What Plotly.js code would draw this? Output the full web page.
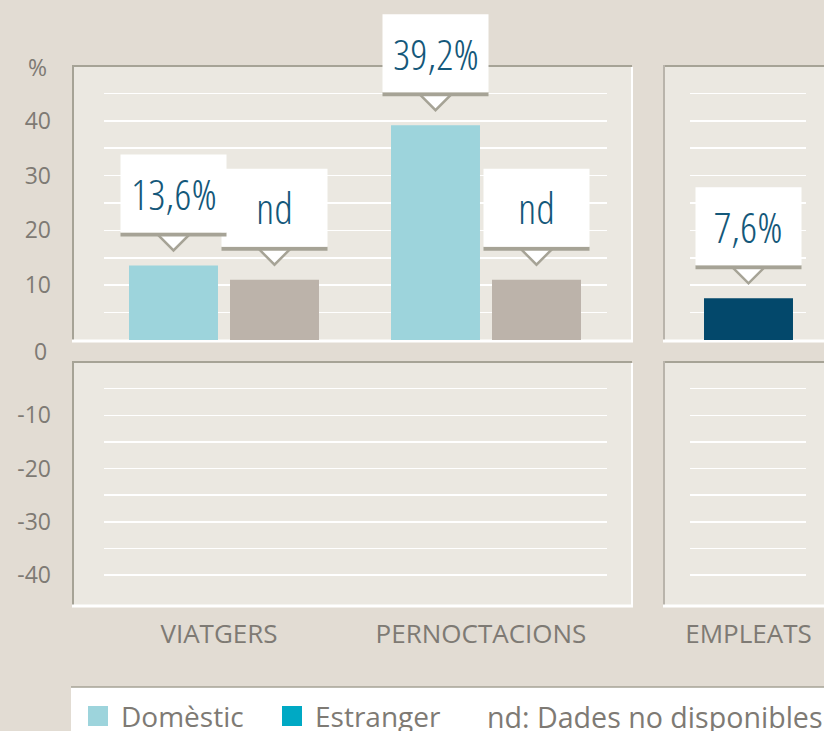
<!DOCTYPE html>
<html>
<head>
<meta charset="utf-8">
<script src="https://cdn.plot.ly/plotly-3.0.1.min.js"></script>
<style>
html, body { margin: 0; padding: 0; background: #e2dcd3; }
#chart { width: 824px; height: 731px; }
text[style*="Open Sans Condensed"] { font-stretch: 75%; }
</style>
</head>
<body>
<div id="chart"></div>
<script>
// ---------------- data ----------------
const categories = ['VIATGERS', 'PERNOCTACIONS'];
const domestic = [13.6, 39.2];                 // Domèstic, %
const estrangerPlaceholder = [11, 11];         // grey bars shown where Estranger is "nd"
const estrangerText = ['nd', 'nd'];
const empCategories = ['EMPLEATS'];
const empleats = [7.6];
const yTicksTop = [10, 20, 30, 40];
const yTickTextTop = ['10', '20', '30', '40'];
const yTicksBottom = [-40, -30, -20, -10];
const yTickTextBottom = ['-40', '-30', '-20', '-10'];
const gridTop = [5, 10, 15, 20, 25, 30, 35, 40, 45];
const gridBottom = [-40, -35, -30, -25, -20, -15, -10, -5];
const legendNames = ['Domèstic', 'Estranger'];
const ndNote = 'nd: Dades no disponibles';
const unitLabel = '%';
const zeroLabel = '0';

// ---------------- style ----------------
const W = 824, H = 731;
const BG = '#e2dcd3', PANEL = '#ebe8e1', BORDER = '#a6a396', BORDER2 = '#b9b4ab';
const C_DOM = '#9dd4dc', C_EST = '#00a9c4', C_ND = '#bcb3aa', C_EMP = '#03486b';
const TXT = '#7e7a74', VAL = '#14587a';
const BARGAP = 0.229, BARGROUPGAP = 0.119;
const px = x => x / W;
const py = y => 1 - y / H;

const fmt = v => v.toFixed(1).replace('.', ',') + '%';

const shapes = [];
const annotations = [];

function prect(x0, y0, x1, y1, fill, layer) {
  shapes.push({type: 'rect', xref: 'paper', yref: 'paper', x0: px(x0), x1: px(x1), y0: py(y1), y1: py(y0),
    fillcolor: fill, line: {width: 0}, layer: layer || 'below'});
}
function pline(x0, y0, x1, y1, color, w) {
  shapes.push({type: 'line', xref: 'paper', yref: 'paper', x0: px(x0), x1: px(x1), y0: py(y0), y1: py(y1),
    line: {color: color, width: w}, layer: 'below'});
}
function panel(x0, y0, x1, y1) {
  prect(x0, y0, x1, y1, PANEL);
  pline(x0, y0 + 1, x1, y0 + 1, BORDER, 2);
  pline(x0 + 1, y0, x0 + 1, y1, x0 > 100 ? BORDER2 : BORDER, 2);
  pline(x0, y1 - 1, x1 + 1, y1 - 1, '#ffffff', 3);
  pline(x1, y0 + 2, x1, y1, '#ffffff', 2);
}
panel(72, 65, 632, 342);
panel(663, 65, 840, 342);
panel(72, 361, 632, 607);
panel(663, 361, 840, 607);

// callouts
const valFont = {family: 'Open Sans Condensed Light, Open Sans Condensed, Open Sans', size: 43, weight: 300, color: VAL};
function callout(xref, yref, xc, yv, text) {
  const base = {xref: xref, yref: yref, xsizemode: 'pixel', ysizemode: 'pixel', xanchor: xc, yanchor: yv};
  shapes.push(Object.assign({type: 'path', path: 'M -16,31 L 0,15 L 16,31 Z',
    fillcolor: '#ffffff', line: {color: BORDER, width: 2.5}}, base));
  shapes.push(Object.assign({type: 'rect', x0: -53, x1: 53, y0: 29, y1: 33,
    fillcolor: BORDER, line: {width: 0}}, base));
  shapes.push(Object.assign({type: 'rect', x0: -53, x1: 53, y0: 33, y1: 111,
    fillcolor: '#ffffff', line: {width: 0}}, base));
  annotations.push({xref: xref, yref: yref, x: xc, y: yv, yshift: 72, text: text, showarrow: false,
    xanchor: 'center', yanchor: 'middle', font: valFont});
}
const slot = (1 - BARGAP) / 2;
categories.forEach((c, i) => callout('x', 'y', i + slot / 2, estrangerPlaceholder[i], estrangerText[i]));
categories.forEach((c, i) => callout('x', 'y', i - slot / 2, domestic[i], fmt(domestic[i])));
empCategories.forEach((c, i) => callout('x2', 'y2', i, empleats[i], fmt(empleats[i])));

// axis extra labels
annotations.push({xref: 'paper', yref: 'paper', x: px(49), y: py(67), xanchor: 'right', yanchor: 'middle',
  text: unitLabel, showarrow: false, font: {family: 'Open Sans', size: 23, color: TXT}});
annotations.push({xref: 'paper', yref: 'y', x: px(49), y: 0, yshift: -11, xanchor: 'right', yanchor: 'middle',
  text: zeroLabel, showarrow: false, font: {family: 'Open Sans', size: 23, color: TXT}});

// legend (bottom strip)
prect(71, 687, 840, 731, '#ffffff', 'above');
shapes.push({type: 'line', xref: 'paper', yref: 'paper', x0: px(71), x1: px(840), y0: py(687), y1: py(687),
  line: {color: BORDER, width: 1.5}, layer: 'above'});
const legendColors = [C_DOM, C_EST];
const legendX = [88, 282];
const legFont = {family: 'Open Sans', size: 28, color: TXT};
legendNames.forEach((n, i) => {
  prect(legendX[i], 706, legendX[i] + 20, 726, legendColors[i], 'above');
  annotations.push({xref: 'paper', yref: 'paper', x: px(legendX[i] + 31), y: py(716), xanchor: 'left', yanchor: 'middle',
    text: n, showarrow: false, font: legFont});
});
annotations.push({xref: 'paper', yref: 'paper', x: px(485), y: py(716), xanchor: 'left', yanchor: 'middle',
  text: ndNote, showarrow: false, font: {family: 'Open Sans', size: 28.6, color: TXT}});

// ---------------- traces ----------------
const data = [
  {type: 'bar', name: legendNames[0], x: categories, y: domestic, xaxis: 'x', yaxis: 'y',
   marker: {color: C_DOM}, showlegend: false, hoverinfo: 'skip'},
  {type: 'bar', name: legendNames[1], x: categories, y: estrangerPlaceholder, xaxis: 'x', yaxis: 'y',
   marker: {color: C_ND}, showlegend: false, hoverinfo: 'skip'},
  {type: 'bar', name: 'Empleats', x: empCategories, y: empleats, xaxis: 'x2', yaxis: 'y2',
   width: slot * (1 - BARGROUPGAP), marker: {color: C_EMP}, showlegend: false, hoverinfo: 'skip'},
  {type: 'bar', x: categories, y: categories.map(() => null), xaxis: 'x', yaxis: 'y3',
   showlegend: false, hoverinfo: 'skip'},
  {type: 'bar', x: empCategories, y: empCategories.map(() => null), xaxis: 'x2', yaxis: 'y4',
   showlegend: false, hoverinfo: 'skip'}
];

const unit = 262; // px per category
const xFont = {family: 'Open Sans', size: 26, color: TXT};
const yFont = {family: 'Open Sans', size: 23, color: TXT};
const gridStyle = (vals) => ({showgrid: true, gridcolor: '#ffffff', gridwidth: 1.5,
  minor: {tickmode: 'array', tickvals: vals, showgrid: true, gridcolor: '#ffffff', gridwidth: 1.5, ticks: ''}});

// top subplots: 0 at y=340px, 50 at y=66px; domain extended to page top so callouts are not clipped
const topDomain = [py(340), 1];
const topMax = 50 * 340 / (340 - 66);
const botDomain = [py(606), py(362)];
const botMin = -(606 - 362) / 5.325;

const layout = {
  width: W, height: H,
  margin: {l: 0, r: 0, t: 0, b: 0},
  paper_bgcolor: BG, plot_bgcolor: 'rgba(0,0,0,0)',
  barmode: 'group', bargap: BARGAP, bargroupgap: BARGROUPGAP,
  showlegend: false, hovermode: false,
  xaxis: {type: 'category', anchor: 'y3', domain: [px(104), px(607)],
    range: [-(224 - 104) / unit, (607 - 224) / unit], showgrid: false, zeroline: false, showline: false,
    ticks: '', tickfont: xFont, ticklabelstandoff: 10, ticklabelshift: -5, fixedrange: true},
  xaxis2: {type: 'category', anchor: 'y4', domain: [px(690), px(806)],
    range: [-(748.5 - 690) / unit, (806 - 748.5) / unit], showgrid: false, zeroline: false, showline: false,
    ticks: '', tickfont: xFont, ticklabelstandoff: 10, fixedrange: true},
  yaxis: Object.assign({anchor: 'x', domain: topDomain, range: [0, topMax], tickvals: yTicksTop, ticktext: yTickTextTop,
    zeroline: false, showline: false, ticks: '', tickfont: yFont, ticklabelstandoff: 52, fixedrange: true}, gridStyle(gridTop)),
  yaxis2: Object.assign({anchor: 'x2', domain: topDomain, range: [0, topMax], tickvals: yTicksTop,
    zeroline: false, showline: false, ticks: '', showticklabels: false, fixedrange: true}, gridStyle(gridTop)),
  yaxis3: Object.assign({anchor: 'x', domain: botDomain, range: [botMin, 0], tickvals: yTicksBottom, ticktext: yTickTextBottom,
    zeroline: false, showline: false, ticks: '', tickfont: yFont, ticklabelstandoff: 52, fixedrange: true}, gridStyle(gridBottom)),
  yaxis4: Object.assign({anchor: 'x2', domain: botDomain, range: [botMin, 0], tickvals: yTicksBottom,
    zeroline: false, showline: false, ticks: '', showticklabels: false, fixedrange: true}, gridStyle(gridBottom)),
  shapes: shapes,
  annotations: annotations
};

Plotly.newPlot('chart', data, layout, {displayModeBar: false, staticPlot: true});
</script>
</body>
</html>
